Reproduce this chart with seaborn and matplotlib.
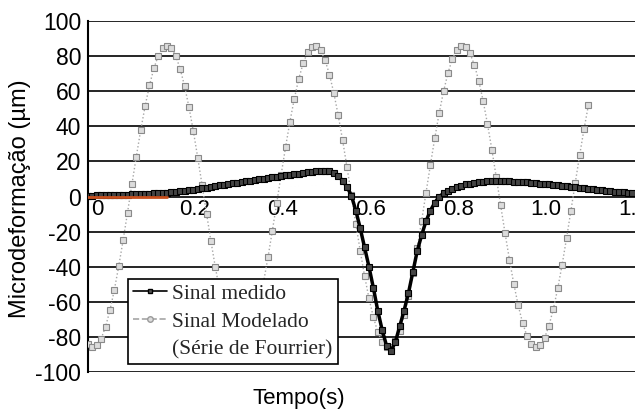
import numpy as np
import pandas as pd
import matplotlib
matplotlib.use("Agg")
import matplotlib.pyplot as plt
import seaborn as sns
from matplotlib.lines import Line2D

# Sinal medido, sampled every 0.01 s from 0 to 1.24 s
measured_y = [
    0.5, 0.5, 0.6, 0.6, 0.7, 0.8, 0.8, 0.9, 1.0, 1.1,
    1.2, 1.3, 1.4, 1.5, 1.6, 1.8, 1.9, 2.1, 2.2, 2.4,
    2.6, 2.9, 3.2, 3.5, 3.9, 4.3, 4.7, 5.1, 5.5, 5.9,
    6.3, 6.7, 7.1, 7.5, 7.9, 8.3, 8.7, 9.1, 9.5, 9.8,
    10.2, 10.6, 10.9, 11.3, 11.6, 12.0, 12.4, 12.7, 13.1, 13.4,
    13.8, 14.1, 14.4, 14.5, 14.5, 14.3, 13.5, 11.8, 9.0, 5.5,
    0.5, -8, -18, -29, -40, -52, -65, -76, -85, -88,
    -83, -74, -65, -55, -43, -31, -22, -14, -8, -3.5,
    0.0, 1.8, 3.2, 4.4, 5.4, 6.2, 6.9, 7.4, 7.9, 8.2,
    8.5, 8.6, 8.7, 8.8, 8.8, 8.7, 8.6, 8.5, 8.4, 8.2,
    8.0, 7.8, 7.6, 7.4, 7.2, 7.0, 6.7, 6.5, 6.2, 5.9,
    5.6, 5.3, 5.0, 4.7, 4.4, 4.2, 3.9, 3.6, 3.3, 3.1,
    2.8, 2.6, 2.3, 2.1, 1.8,
]

# Sinal modelado (Série de Fourrier), sampled every 0.01 s from 0 to 1.14 s
modeled_y = [
    -84.0, -86.0, -84.9, -81.0, -74.2, -64.8, -53.2, -39.7, -24.9, -9.2,
    6.9, 22.7, 37.7, 51.4, 63.3, 73.0, 80.2, 84.6, 86.0, 84.5,
    80.0, 72.7, 62.9, 50.9, 37.2, 22.1, 6.3, -9.7, -25.4, -40.2,
    -53.6, -65.2, -74.5, -81.2, -85.0, -85.9, -83.9, -78.9, -71.1, -61.0,
    -48.6, -34.6, -19.4, -3.5, 12.5, 28.1, 42.7, 55.8, 67.0, 75.8,
    82.1, 85.4, 85.8, 83.2, 77.7, 69.5, 58.9, 46.2, 32.0, 16.6,
    0.6, -15.4, -30.8, -45.2, -58.0, -68.7, -77.2, -82.9, -85.7, -85.7,
    -82.4, -76.4, -67.8, -56.8, -43.8, -29.3, -13.8, 2.2, 18.1, 33.4,
    47.6, 60.0, 70.4, 78.4, 83.6, 85.9, 85.2, 81.6, 75.1, 66.0,
    54.6, 41.3, 26.6, 11.0, -5.1, -20.9, -36.0, -49.9, -62.1, -72.1,
    -79.5, -84.2, -86.0, -84.8, -80.6, -73.6, -64.1, -52.4, -38.8, -23.9,
    -8.1, 7.9, 23.7, 38.6, 52.2,
]

# short orange trace near the origin
orange_t = [0.0, 0.18]
orange_y = [0.0, 0.0]

x_ticks = [0, 0.2, 0.4, 0.6, 0.8, 1.0, 1.2]
x_ticklabels = ["0", "0.2", "0.4", "0.6", "0.8", "1.0", "1.2"]
y_ticks = list(range(-100, 101, 20))

measured = pd.DataFrame({"t": np.arange(len(measured_y)) / 100, "y": measured_y})
modeled = pd.DataFrame({"t": np.arange(len(modeled_y)) / 100, "y": modeled_y})
orange = pd.DataFrame({"t": orange_t, "y": orange_y})

sns.set_style("white")
plt.rcParams["font.family"] = ["Liberation Sans", "DejaVu Sans"]
plt.rcParams["axes.unicode_minus"] = False

fig = plt.figure(figsize=(6.35, 4.12), dpi=100)
ax = fig.add_axes([88 / 635, 40 / 412, 547 / 635, 351 / 412])

sns.lineplot(data=modeled, x="t", y="y", ax=ax, color="#a6a6a6", linestyle=":",
             linewidth=1.0, marker="s", markersize=4.5, markerfacecolor="#dcdcdc",
             markeredgecolor="#8a8a8a", markeredgewidth=0.8, zorder=3)
sns.lineplot(data=measured, x="t", y="y", ax=ax, color="black", linewidth=2.5,
             marker="s", markersize=4.5, markerfacecolor="#444444",
             markeredgecolor="black", markeredgewidth=0.8, zorder=4)
sns.lineplot(data=orange, x="t", y="y", ax=ax, color="#c8501e", linewidth=2.0, zorder=5)

ax.set_xlim(0, 1.246)
ax.set_ylim(-100, 100)
ax.set_yticks(y_ticks)
ax.set_xticks([])
for y in y_ticks:
    ax.axhline(y, color="black", linewidth=1.2, zorder=1)

ax.tick_params(axis="y", length=0, pad=5, labelsize=16.5)
for lbl in ax.get_yticklabels():
    lbl.set_color("black")

for xt, lab in zip(x_ticks, x_ticklabels):
    ax.text(xt + 0.008, -1.5, lab, ha="left", va="top", fontsize=16,
            color="black", zorder=2)

for side in ["top", "right", "bottom"]:
    ax.spines[side].set_visible(False)
ax.spines["left"].set_color("black")
ax.spines["left"].set_linewidth(1.5)

ax.set_xlabel("Tempo(s)", fontsize=16, color="black")
ax.xaxis.set_label_coords(0.386, -0.045)
ax.set_ylabel("Microdeformação (µm)", fontsize=17, color="black")
ax.yaxis.set_label_coords(-0.104, 0.494)

handles = [
    Line2D([0], [0], color="black", linewidth=1.2, marker="s", markersize=3.5,
           markerfacecolor="#555555", markeredgecolor="black"),
    Line2D([0], [0], color="#a6a6a6", linewidth=1.2, linestyle="--", marker="o",
           markersize=4, markerfacecolor="#dcdcdc", markeredgecolor="#9a9a9a"),
    Line2D([0], [0], color="none"),
]
labels = ["Sinal medido", "Sinal Modelado", "(Série de Fourrier)"]
leg = ax.legend(handles, labels, loc="upper left", bbox_to_anchor=(0.073, 0.265),
                borderaxespad=0, frameon=True, fancybox=False, shadow=False,
                prop={"family": "Liberation Serif", "size": 15.5},
                handlelength=1.6, handletextpad=0.25, labelspacing=0.36,
                borderpad=0.22)
leg.get_frame().set_edgecolor("black")
leg.get_frame().set_linewidth(1.2)
leg.get_frame().set_facecolor("white")
leg.get_frame().set_alpha(1)
leg.set_zorder(10)

fig.savefig("out.png", dpi=100)
